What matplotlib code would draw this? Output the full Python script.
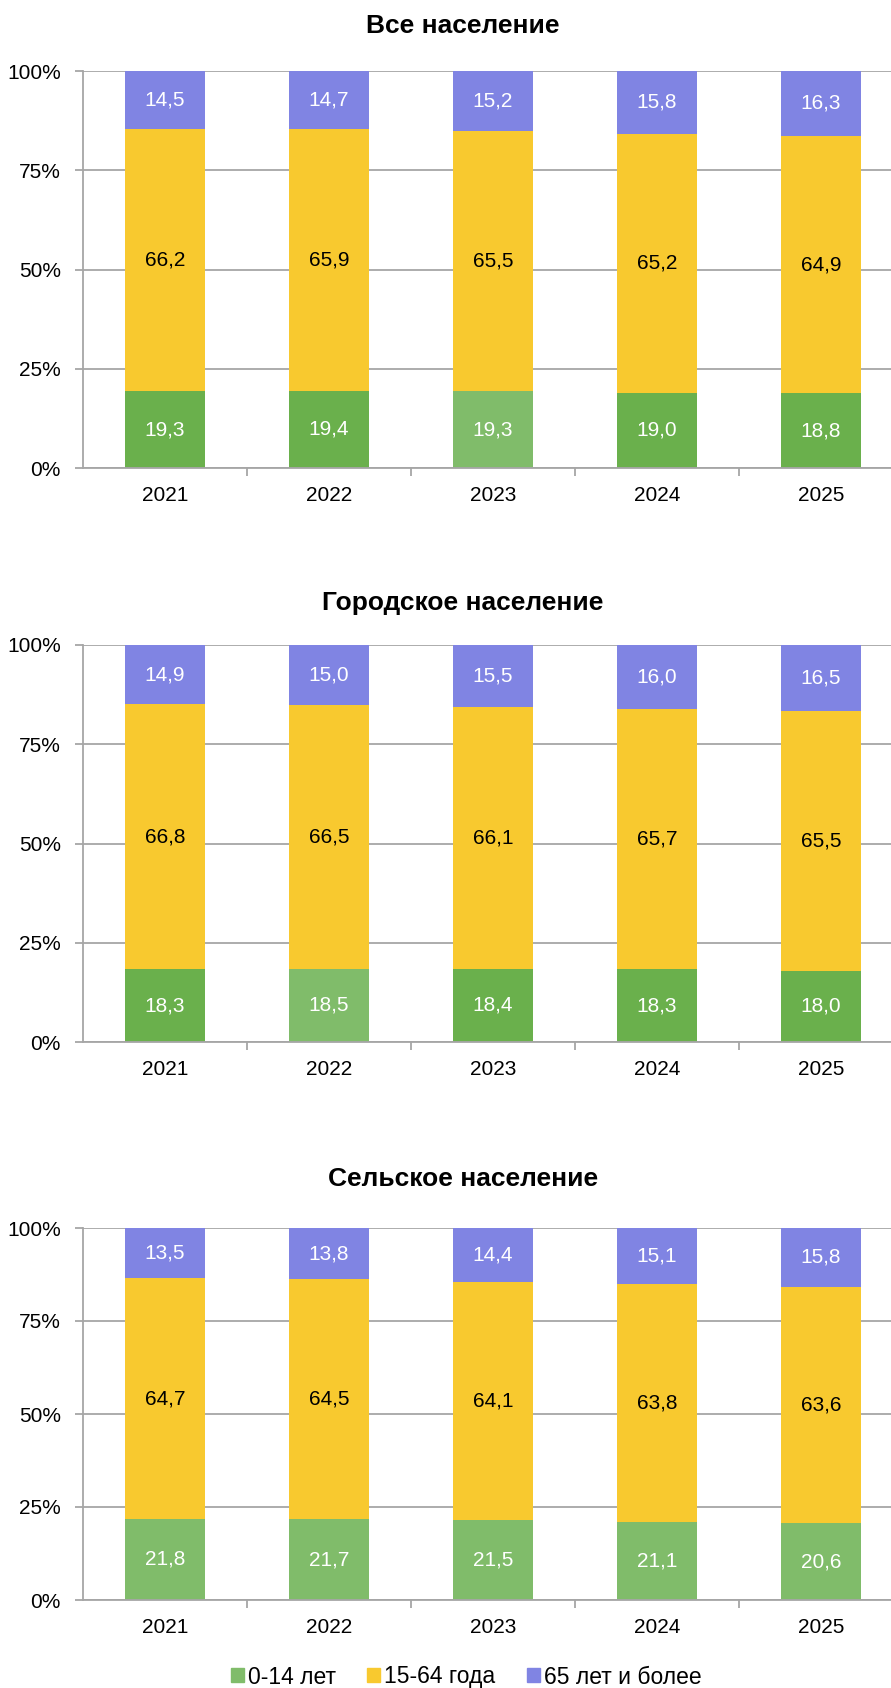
import numpy as np
import matplotlib.pyplot as plt
from matplotlib.patches import Patch

plt.rcParams['font.family'] = ['Liberation Sans', 'DejaVu Sans']

# Данные (проценты)
years = ['2021', '2022', '2023', '2024', '2025']
titles = ['Все население', 'Городское население', 'Сельское население']
series_names = ['0-14 лет', '15-64 года', '65 лет и более']

all_0_14 = [19.3, 19.4, 19.3, 19.0, 18.8]
all_15_64 = [66.2, 65.9, 65.5, 65.2, 64.9]
all_65 = [14.5, 14.7, 15.2, 15.8, 16.3]

urban_0_14 = [18.3, 18.5, 18.4, 18.3, 18.0]
urban_15_64 = [66.8, 66.5, 66.1, 65.7, 65.5]
urban_65 = [14.9, 15.0, 15.5, 16.0, 16.5]

rural_0_14 = [21.8, 21.7, 21.5, 21.1, 20.6]
rural_15_64 = [64.7, 64.5, 64.1, 63.8, 63.6]
rural_65 = [13.5, 13.8, 14.4, 15.1, 15.8]

# Цвета
green = '#6AB04C'
green_light = '#80BC6A'
yellow = '#F8C92F'
purple = '#8084E3'
grid_col = '#A6A6A6'

# какие столбцы светлее (выделены в исходнике)
light_green = [[2], [1], [0, 1, 2, 3, 4]]

data = [
    (all_0_14, all_15_64, all_65),
    (urban_0_14, urban_15_64, urban_65),
    (rural_0_14, rural_15_64, rural_65),
]

W, H = 891, 1688
fig = plt.figure(figsize=(W / 100, H / 100), dpi=100)

# (top, bottom, title_y) в пикселях
boxes = [(71, 468, 26), (645, 1042, 603), (1228, 1600, 1179)]
left_px = 83
axw_px = 820

for k, (s1, s2, s3) in enumerate(data):
    top, bot, ty = boxes[k]
    ax = fig.add_axes([left_px / W, 1 - bot / H, axw_px / W, (bot - top) / H])
    x = np.arange(len(years))
    c1 = [green_light if i in light_green[k] else green for i in range(len(years))]
    b1 = np.array(s1)
    b2 = b1 + np.array(s2)
    ax.bar(x, s1, width=0.49, color=c1, zorder=2)
    ax.bar(x, s2, width=0.49, bottom=b1, color=yellow, zorder=2)
    ax.bar(x, s3, width=0.49, bottom=b2, color=purple, zorder=2)

    for i in range(len(years)):
        ax.text(x[i], s1[i] / 2, f'{s1[i]:.1f}'.replace('.', ','), ha='center', va='center',
                color='white', fontsize=15, zorder=3)
        ax.text(x[i], b1[i] + s2[i] / 2, f'{s2[i]:.1f}'.replace('.', ','), ha='center', va='center',
                color='black', fontsize=15, zorder=3)
        ax.text(x[i], b2[i] + s3[i] / 2, f'{s3[i]:.1f}'.replace('.', ','), ha='center', va='center',
                color='white', fontsize=15, zorder=3)

    ax.set_xlim(-0.5, len(years) - 0.5)
    ax.set_ylim(0, 100)
    ax.set_yticks([0, 25, 50, 75, 100])
    ax.set_yticklabels(['0%', '25%', '50%', '75%', '100%'])
    ax.set_xticks(x)
    ax.set_xticklabels(years)
    ax.set_xticks(x[:-1] + 0.5, minor=True)
    ax.tick_params(axis='x', which='major', length=0, pad=13, labelsize=15)
    ax.tick_params(axis='x', which='minor', length=6, width=1.3, color=grid_col, direction='out')
    ax.tick_params(axis='y', length=6, width=1.3, color=grid_col, pad=10, labelsize=15)
    ax.grid(axis='y', color=grid_col, linewidth=1.3, zorder=0)
    for sp in ['top', 'right']:
        ax.spines[sp].set_visible(False)
    for sp in ['left', 'bottom']:
        ax.spines[sp].set_color(grid_col)
        ax.spines[sp].set_linewidth(1.3)

    fig.text(463 / W, 1 - ty / H, titles[k], ha='center', va='center',
             fontsize=19, fontweight='bold')

handles = [Patch(color=green_light), Patch(color=yellow), Patch(color=purple)]
fig.legend(handles, series_names, loc='center', bbox_to_anchor=(466 / W, 1 - 1677 / H),
           ncol=3, frameon=False, fontsize=16.5, handlelength=0.57, handleheight=0.57,
           handletextpad=0.17, columnspacing=1.38, borderpad=0)

fig.savefig('out.png', dpi=100)
